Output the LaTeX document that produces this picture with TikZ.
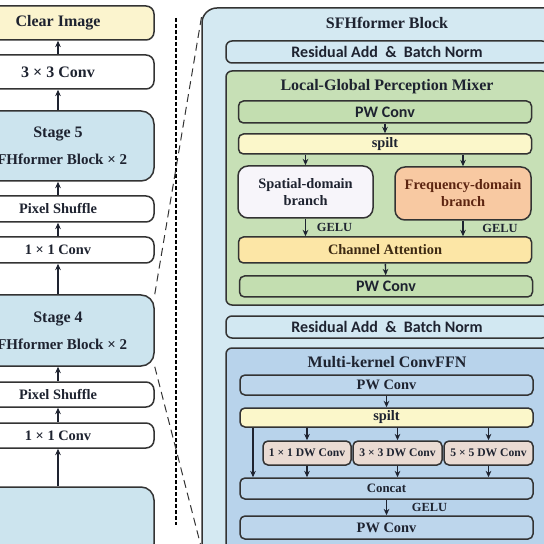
\documentclass[tikz,border=0pt]{standalone}
\usepackage{fontspec}
\setmainfont{Liberation Serif}
\newfontfamily\calfont{Carlito}
\usetikzlibrary{arrows.meta}
\definecolor{txt}{HTML}{1E2330}
\definecolor{clearc}{HTML}{FBF4CE}
\definecolor{stagec}{HTML}{CCE4EE}
\definecolor{bigc}{HTML}{D4E9F2}
\definecolor{resc}{HTML}{D2E8F2}
\definecolor{mixc}{HTML}{C7E0B6}
\definecolor{pwgc}{HTML}{C3DEB0}
\definecolor{splitc}{HTML}{FBF7CA}
\definecolor{spatc}{HTML}{F7F5FA}
\definecolor{freqc}{HTML}{F8C9A2}
\definecolor{freqt}{HTML}{5C2410}
\definecolor{chattc}{HTML}{FCE6A6}
\definecolor{chattt}{HTML}{3D2A12}
\definecolor{ffnc}{HTML}{B8D3EB}
\definecolor{pwbc}{HTML}{BDD6EC}
\definecolor{dwc}{HTML}{EADBD3}
\begin{document}
\begin{tikzpicture}[x=0.5pt,y=-0.5pt,>={Stealth[length=3.2pt,width=2.8pt]},line width=0.7pt,color=txt,
	box/.style={draw=black!80,line width=0.75pt,rounded corners=2.5pt,inner sep=0pt,align=center,text=txt,font=\bfseries\fontsize{7.2}{8.5}\selectfont},
	lbox/.style={box,minimum width=96pt,rounded corners=4pt},
	stagebox/.style={lbox,fill=stagec,rounded corners=6.5pt,font=\bfseries\fontsize{8}{8.5}\selectfont},
	outer/.style={box,minimum width=161pt,rounded corners=3pt},
	wide/.style={box,minimum width=146.5pt},
	dwbox/.style={box,fill=dwc,minimum width=44pt,minimum height=12pt,font=\bfseries\fontsize{5.8}{7}\selectfont},
	title/.style={text=txt,font=\bfseries\fontsize{8}{9}\selectfont},
	cal/.style={font=\calfont\bfseries\fontsize{8}{9}\selectfont},
	gelu/.style={right,text=txt,font=\bfseries\fontsize{6.2}{7}\selectfont},
	zoomline/.style={black!80,line width=0.5pt,dash pattern=on 4pt off 2.5pt},
	sepline/.style={black,line width=1pt,dash pattern=on 2pt off 1pt}]
	\clip (0,0) rectangle (544,544);
	\node[lbox,fill=clearc,minimum height=17pt,font=\bfseries\fontsize{8}{9}\selectfont] (clear) at (58,23) {Clear Image};
	\node[lbox,fill=white,minimum height=17pt,font=\bfseries\fontsize{8}{9}\selectfont] (conv3) at (58,72) {3 × 3 Conv};
	\node[stagebox,minimum height=35pt] (stage5) at (58,146) {Stage 5\\[5pt]{\fontsize{7.5}{8.5}\selectfont SFHformer Block × 2}};
	\node[lbox,fill=white,minimum height=13pt] (shuffle5) at (58,209) {Pixel Shuffle};
	\node[lbox,fill=white,minimum height=13pt] (conv5) at (58,250) {1 × 1 Conv};
	\node[stagebox,minimum height=35.5pt] (stage4) at (58,330.5) {Stage 4\\[5pt]{\fontsize{7.5}{8.5}\selectfont SFHformer Block × 2}};
	\node[lbox,fill=white,minimum height=12.5pt] (shuffle4) at (58,394.5) {Pixel Shuffle};
	\node[lbox,fill=white,minimum height=12.5pt] (conv4) at (58,435.5) {1 × 1 Conv};
	\node[stagebox,minimum height=35pt] (stage3) at (58,522) {};
	\foreach \a/\b in {stage3/conv4,conv4/shuffle4,shuffle4/stage4,stage4/conv5,conv5/shuffle5,shuffle5/stage5,stage5/conv3,conv3/clear}
	\draw[->] (\a.north) -- (\b.south);
	\draw[sepline] (176,18) -- (176,525);
	\node[draw=black!80,line width=0.75pt,fill=bigc,rounded corners=7.5pt,minimum width=185pt,minimum height=306pt] (block) at (387,314) {};
	\node[title] (blocktitle) at (387,23) {SFHformer Block};
	\coordinate (blocktop) at (202,14);
	\coordinate (blockbot) at (204,558);
	\draw[zoomline] (stage4.north east) -- (blocktop);
	\draw[zoomline] (stage4.south east) -- (blockbot);
	\node[outer,fill=resc,minimum height=11pt,cal] (res1) at (387,52) {Residual Add \ \& \ Batch Norm};
	\node[outer,fill=mixc,minimum height=117pt] (mixer) at (387,188) {};
	\node[title] (mixtitle) at (387,87) {Local-Global Perception Mixer};
	\node[wide,fill=pwgc,minimum height=11pt,cal] (pwa) at (385,112) {PW Conv};
	\node[wide,fill=splitc,minimum height=10pt] (splita) at (385,144) {spilt};
	\node[box,fill=spatc,minimum width=67.5pt,minimum height=26pt,rounded corners=5pt] (spatial) at (305.5,192) {Spatial-domain\\branch};
	\node[box,fill=freqc,text=freqt,minimum width=68pt,minimum height=26.5pt,rounded corners=5pt] (freq) at (463,193.5) {Frequency-domain\\branch};
	\node[wide,fill=chattc,text=chattt,minimum height=13pt] (chatt) at (385,250) {Channel Attention};
	\node[wide,fill=pwgc,minimum height=10.5pt,cal] (pwb) at (386,286.5) {PW Conv};
	\draw[->] (pwa) -- (splita);
	\draw[->] (splita.south -| spatial.north) -- (spatial.north);
	\draw[->] (splita.south -| freq.north) -- (freq.north);
	\draw[->] (spatial.south) -- (chatt.north -| spatial.south) node[gelu,midway,xshift=2pt] {GELU};
	\draw[->] (freq.south) -- (chatt.north -| freq.south) node[gelu,midway,xshift=6pt] {GELU};
	\draw[->] (chatt) -- (pwb);
	\node[outer,fill=resc,minimum height=11pt,cal] (res2) at (387,327) {Residual Add \ \& \ Batch Norm};
	\node[outer,fill=ffnc,minimum height=136pt] (ffn) at (387,484) {};
	\node[title] (ffntitle) at (387,362) {Multi-kernel ConvFFN};
	\node[wide,fill=pwbc,minimum height=10pt] (pwc) at (386.5,385) {PW Conv};
	\node[wide,fill=splitc,minimum height=9.5pt] (splitb) at (386.5,417.5) {spilt};
	\node[dwbox] (dwa) at (307,453) {1 × 1 DW Conv};
	\node[dwbox,minimum width=44.5pt] (dwb) at (397.5,453) {3 × 3 DW Conv};
	\node[dwbox,minimum width=44.5pt] (dwc) at (488.5,453) {5 × 5 DW Conv};
	\node[wide,fill=pwbc,minimum height=10.5pt,font=\bfseries\fontsize{6.4}{7.5}\selectfont] (concat) at (386.5,488.5) {Concat};
	\node[wide,fill=pwbc,minimum height=11.5pt] (pwd) at (386.5,527.5) {PW Conv};
	\coordinate (skip) at (253,0);
	\draw[->] (pwc) -- (splitb);
	\foreach \d in {dwa,dwb,dwc}{
		\draw[->] (splitb.south -| \d.north) -- (\d.north);
		\draw[->] (\d.south) -- (concat.north -| \d.south);
	}
	\draw[->] (splitb.south -| skip) -- (concat.north -| skip);
	\draw[->] (concat) -- (pwd) node[gelu,midway,xshift=9pt] {GELU};
\end{tikzpicture}
\end{document}
